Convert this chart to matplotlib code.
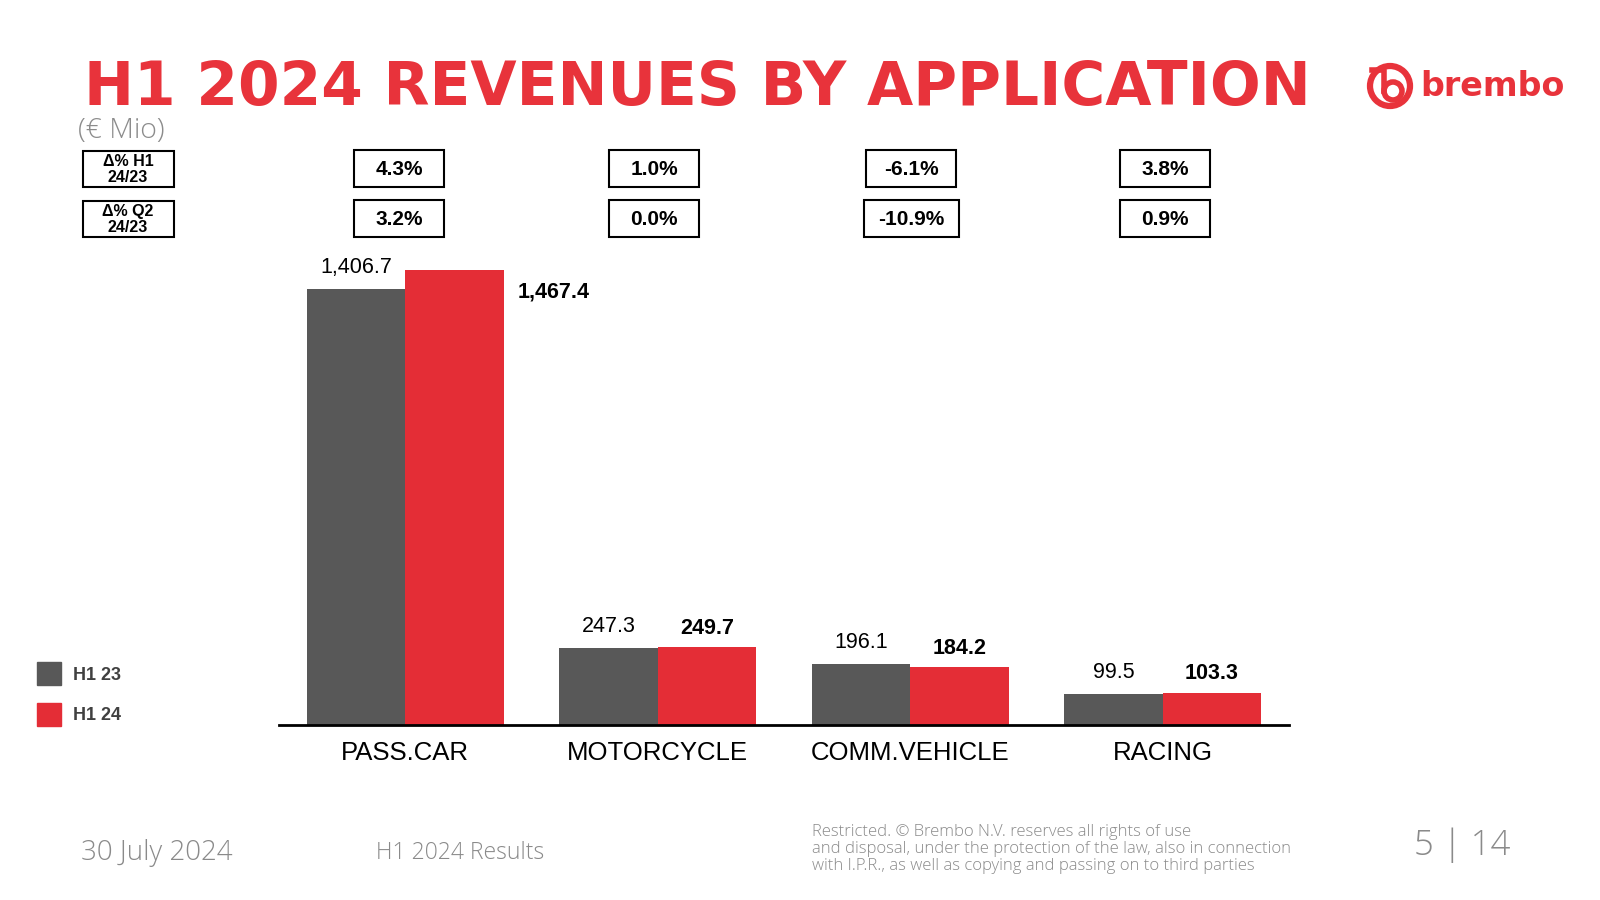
import numpy as np
import matplotlib.pyplot as plt
from matplotlib.patches import Rectangle, Circle

# data
categories = ["PASS.CAR", "MOTORCYCLE", "COMM.VEHICLE", "RACING"]
h1_23 = [1406.7, 247.3, 196.1, 99.5]
h1_24 = [1467.4, 249.7, 184.2, 103.3]
delta_h1 = ["4.3%", "1.0%", "-6.1%", "3.8%"]
delta_q2 = ["3.2%", "0.0%", "-10.9%", "0.9%"]
series_names = ["H1 23", "H1 24"]

GREY = "#585858"
RED = "#E42D36"
TITLE_RED = "#E8333B"
FOOT = "#8a8a8a"
W, H = 1600, 900


def fx(x):
    return x / W


def fy(y):
    return 1 - y / H


fig = plt.figure(figsize=(16, 9), dpi=100)
fig.patch.set_facecolor("white")

# main bar chart
ax = fig.add_axes([fx(279), fy(724.5), fx(1289) - fx(279), fy(260) - fy(724.5)])
x = np.arange(len(categories))
bw = 0.39
ax.bar(x - bw / 2, h1_23, bw, color=GREY, label=series_names[0])
ax.bar(x + bw / 2, h1_24, bw, color=RED, label=series_names[1])
ax.set_xlim(-0.5, 3.5)
ax.set_ylim(0, 1500)
for s in ["top", "right", "left"]:
    ax.spines[s].set_visible(False)
ax.spines["bottom"].set_linewidth(2)
ax.spines["bottom"].set_color("black")
ax.set_yticks([])
ax.set_xticks(x)
ax.set_xticklabels(categories, fontsize=18.5, family="Liberation Sans")
ax.tick_params(axis="x", length=0, pad=12)

for i, (a, b) in enumerate(zip(h1_23, h1_24)):
    ax.annotate(f"{a:,.1f}", (x[i] - bw / 2, a), xytext=(0, 8), textcoords="offset points",
                ha="center", va="bottom", fontsize=15.5, family="Liberation Sans")
    if i == 0:
        ax.annotate(f"{b:,.1f}", (x[i] + bw, b), xytext=(10, -16), textcoords="offset points",
                    ha="left", va="center", fontsize=15.5, fontweight="bold", family="Liberation Sans")
    else:
        ax.annotate(f"{b:,.1f}", (x[i] + bw / 2, b), xytext=(0, 6), textcoords="offset points",
                    ha="center", va="bottom", fontsize=15.5, fontweight="bold", family="Liberation Sans")

# title
fig.text(fx(84), fy(88), "H1 2024 REVENUES BY APPLICATION", color=TITLE_RED, fontsize=43,
         fontweight="bold", family="DejaVu Sans", ha="left", va="center")
fig.text(fx(78), fy(131), "(€ Mio)", color="#8c8c8c", fontsize=20.5, family="Open Sans",
         fontweight="light", ha="left", va="center")

lax = fig.add_axes([0, 0, 1, 1], facecolor="none")
lax.set_xlim(0, W)
lax.set_ylim(H, 0)
lax.axis("off")

# brembo logo (approximation)
lax.add_patch(Circle((1390, 86), 20, fill=False, lw=4.5, color=TITLE_RED))
lax.add_patch(Circle((1393, 91), 9, fill=False, lw=4, color=TITLE_RED))
lax.plot([1384, 1384, 1372], [91, 70, 70], color=TITLE_RED, lw=4)
lax.text(1420, 86, "brembo", color=TITLE_RED, fontsize=24, fontweight="bold",
         family="DejaVu Sans", ha="left", va="center")

# delta boxes
row_y = [168.5, 218.5]
row_labels = ["Δ% H1\n24/23", "Δ% Q2\n24/23"]
group_cx = [399, 654, 911, 1165]
for r, (ry, rl) in enumerate(zip(row_y, row_labels)):
    lax.add_patch(Rectangle((83, ry - 18), 91, 36, fill=False, lw=1.5, ec="black"))
    lax.text(128, ry + 1, rl, ha="center", va="center", fontsize=11.5, fontweight="bold",
             family="Liberation Sans", linespacing=1.1)
    vals = delta_h1 if r == 0 else delta_q2
    for cx, v in zip(group_cx, vals):
        bw_px = 95 if len(v) > 5 else 90
        lax.add_patch(Rectangle((cx - bw_px / 2, ry - 18.5), bw_px, 37, fill=False, lw=1.5, ec="black"))
        lax.text(cx, ry + 1, v, ha="center", va="center", fontsize=15, fontweight="bold",
                 family="Liberation Sans")

# legend
for i, (name, col) in enumerate(zip(series_names, [GREY, RED])):
    yy = 662 + i * 41
    lax.add_patch(Rectangle((37, yy), 24, 23, color=col))
    lax.text(73, yy + 13, name, ha="left", va="center", fontsize=13, fontweight="bold",
             color="#404040", family="Liberation Sans")

# footer
lax.text(81, 853, "30 July 2024", fontsize=20, color=FOOT, family="Open Sans",
         fontweight="light", ha="left", va="center")
lax.text(376, 853, "H1 2024 Results", fontsize=16.5, color=FOOT, family="Open Sans",
         fontweight="light", ha="left", va="center")
lax.text(812, 824, "Restricted. © Brembo N.V. reserves all rights of use\n"
         "and disposal, under the protection of the law, also in connection\n"
         "with I.P.R., as well as copying and passing on to third parties",
         fontsize=12, color=FOOT, family="Open Sans", fontweight="light",
         ha="left", va="top", linespacing=1.08)
lax.text(1414, 845, "5 | 14", fontsize=25, color=FOOT, family="Open Sans",
         fontweight="light", ha="left", va="center")

fig.savefig("out.png", dpi=100, facecolor="white")
